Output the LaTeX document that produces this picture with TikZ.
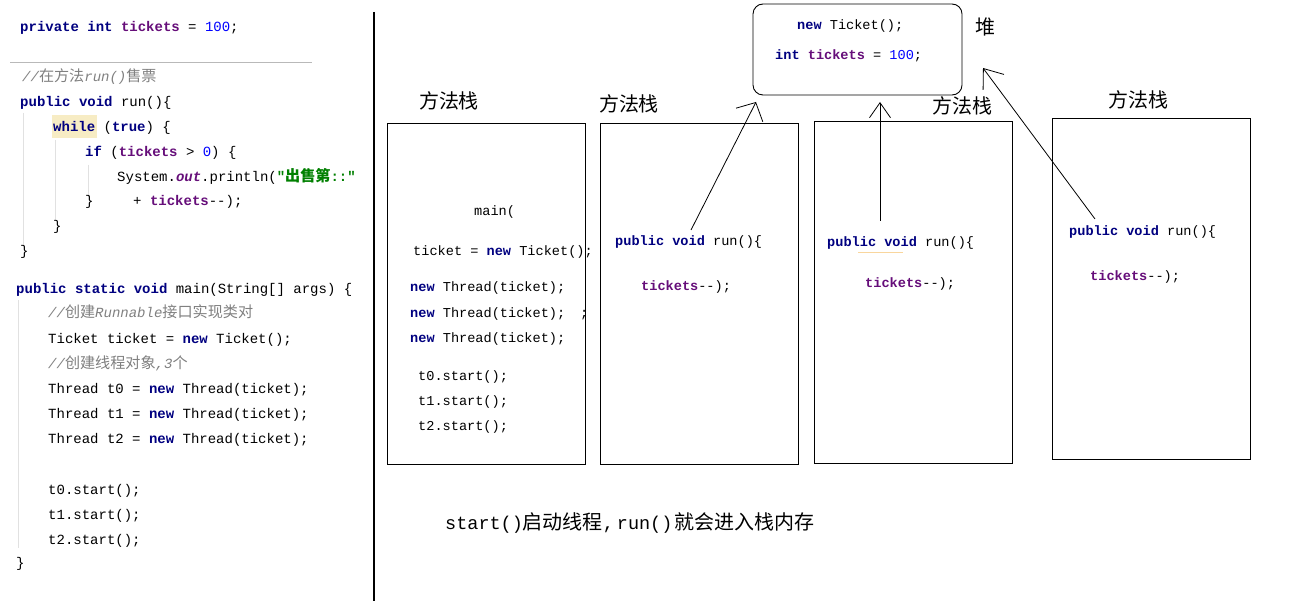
\documentclass[tikz,border=0pt]{standalone}
\usepackage{fontspec}
\usetikzlibrary{arrows.meta}
\newfontfamily\codefont{Liberation Mono}
\newfontfamily\cjk[Scale=1.08]{Noto Sans CJK SC}
\definecolor{kwc}{RGB}{0,0,128}
\definecolor{fldc}{RGB}{102,14,122}
\definecolor{numc}{RGB}{0,0,255}
\definecolor{cmtc}{RGB}{128,128,128}
\definecolor{strc}{RGB}{0,128,0}
\definecolor{hlc}{RGB}{247,236,196}
\definecolor{guidec}{RGB}{225,225,225}
\newcommand\kwd[1]{{\bfseries\color{kwc}#1}}
\newcommand\fldd[1]{{\bfseries\color{fldc}#1}}
\newcommand\numb[1]{{\color{numc}#1}}
\newcommand\cmnt[1]{{\itshape\color{cmtc}#1}}
\newcommand\zh[1]{{\upshape\cjk #1}}
\newcommand\mm{-\kern0pt-}
\tikzset{
  code/.style={anchor=base west, inner sep=0pt, font=\codefont\fontsize{14}{16}\selectfont},
  bcode/.style={code, font=\codefont\fontsize{13.6}{16}\selectfont},
  stackbox/.style={draw, line width=0.9pt, minimum width=198pt, inner sep=0pt},
  heapbox/.style={draw, line width=0.9pt, rounded corners=10pt, minimum width=209pt, minimum height=91pt, inner sep=0pt},
  lbl/.style={inner sep=0pt, font=\cjk\fontsize{18.5}{20}\selectfont},
  guide/.style={draw=guidec, line width=0.8pt},
  ref/.style={line width=0.8pt},
}
\begin{document}
\begin{tikzpicture}[x=1pt,y=-1pt]
\useasboundingbox (0,0) rectangle (1300,601);
\fill[white] (0,0) rectangle (1300,601);
% ---------- left code panel ----------
\draw[guide] (23,113) -- (23,245);
\draw[guide] (55,140) -- (55,220);
\draw[guide] (88,165) -- (88,197);
\draw[guide] (18,300) -- (18,548);
\draw[draw=gray!55, line width=0.8pt] (10,62) -- (312,62);
\fill[hlc] (52,115) rectangle (97,138);
\node[code] (l1) at (20,32) {\kwd{private int} \fldd{tickets} = \numb{100};};
\node[code] (l2) at (22,82) {\cmnt{//\zh{在方法}run()\zh{售票}}};
\node[code] (l3) at (20,107) {\kwd{public void} run()\{};
\node[code] (l4) at (53,132) {\kwd{while} (\kwd{true}) \{};
\node[code] (l5) at (85,157) {\kwd{if} (\fldd{tickets} > \numb{0}) \{};
\node[code] (l6) at (117,182) {System.{\bfseries\itshape\color{fldc}out}.println({\bfseries\color{strc}"\zh{出售第}::"}};
\node[code] (l7a) at (85,206) {\}};
\node[code] (l7b) at (133,206) {+ \fldd{tickets}\mm);};
\node[code] (l8) at (53,231) {\}};
\node[code] (l9) at (20,256) {\}};
\node[code] (m1) at (16,294) {\kwd{public static void} main(String[] args) \{};
\node[code] (m2) at (48,318) {\cmnt{//\zh{创建}Runnable\zh{接口实现类对}}};
\node[code] (m3) at (48,343) {Ticket ticket = \kwd{new} Ticket();};
\node[code] (m4) at (48,368) {\cmnt{//\zh{创建线程对象},3\zh{个}}};
\node[code] (m5) at (48,393) {Thread t0 = \kwd{new} Thread(ticket);};
\node[code] (m6) at (48,418) {Thread t1 = \kwd{new} Thread(ticket);};
\node[code] (m7) at (48,443) {Thread t2 = \kwd{new} Thread(ticket);};
\node[code] (m8) at (48,494) {t0.start();};
\node[code] (m9) at (48,519) {t1.start();};
\node[code] (m10) at (48,544) {t2.start();};
\node[code] (m11) at (16,567) {\}};
% divider
\draw[line width=2pt] (374,12) -- (374,601);
% ---------- heap ----------
\node[heapbox] (heap) at (857.5,49.5) {};
\node[bcode] (h1) at (797,30) {\kwd{new} Ticket();};
\node[bcode] (h2) at (775,60) {\kwd{int} \fldd{tickets} = \numb{100};};
\node[lbl] (heaplbl) at (985,27) {堆};
% ---------- stacks ----------
\node[stackbox, minimum height=341pt] (s1) at (486,293.5) {};
\node[stackbox, minimum height=341pt] (s2) at (699,293.5) {};
\node[stackbox, minimum height=342pt] (s3) at (913,292) {};
\node[stackbox, minimum height=341pt] (s4) at (1151,288.5) {};
\node[lbl] (t1) at (449,101) {方法栈};
\node[lbl] (t2) at (629,104) {方法栈};
\node[lbl] (t3) at (962,106) {方法栈};
\node[lbl] (t4) at (1138,100) {方法栈};
% stack 1
\node[bcode] (a1) at (474,216) {main(};
\node[bcode] (a2) at (413,256) {ticket = \kwd{new} Ticket();};
\node[bcode] (a3) at (410,292) {\kwd{new} Thread(ticket);};
\node[bcode] (a4) at (410,317) {\kwd{new} Thread(ticket);};
\node[bcode] (a4b) at (580,317) {;};
\node[bcode] (a5) at (410,342) {\kwd{new} Thread(ticket);};
\node[bcode] (a6) at (418,380) {t0.start();};
\node[bcode] (a7) at (418,405) {t1.start();};
\node[bcode] (a8) at (418,430) {t2.start();};
% stack 2
\node[bcode] (b1) at (615,246) {\kwd{public void} run()\{};
\node[bcode] (b2) at (641,291) {\fldd{tickets}\mm);};
% stack 3
\draw[draw=hlc!80!orange, line width=1pt] (858,253) -- (903,253);
\node[bcode] (c1) at (827,247) {\kwd{public void} run()\{};
\node[bcode] (c2) at (865,288) {\fldd{tickets}\mm);};
% stack 4
\node[bcode] (d1) at (1069,236) {\kwd{public void} run()\{};
\node[bcode] (d2) at (1090,281) {\fldd{tickets}\mm);};
% ---------- references ----------
\coordinate (r1s) at (691,230);
\coordinate (r1e) at (756,102);
\coordinate (r2s) at (880,221);
\coordinate (r2e) at (880,102);
\coordinate (r3s) at (1095,219);
\coordinate (r3e) at (983,68);
\draw[ref, -{Straight Barb[length=14pt,width=30pt]}] (r1s) -- (r1e);
\draw[ref, -{Straight Barb[length=15pt,width=21pt]}] (r2s) -- (r2e);
\draw[ref, -{Straight Barb[length=17pt,width=26pt]}] (r3s) -- (r3e);
% ---------- caption ----------
\node[anchor=base west, inner sep=0pt, font=\codefont\fontsize{18.5}{20}\selectfont] (cap) at (445,529)
  {start()\zh{启动线程},\hspace{3pt}run()\hspace{2pt}\zh{就会进入栈内存}};
\end{tikzpicture}
\end{document}
